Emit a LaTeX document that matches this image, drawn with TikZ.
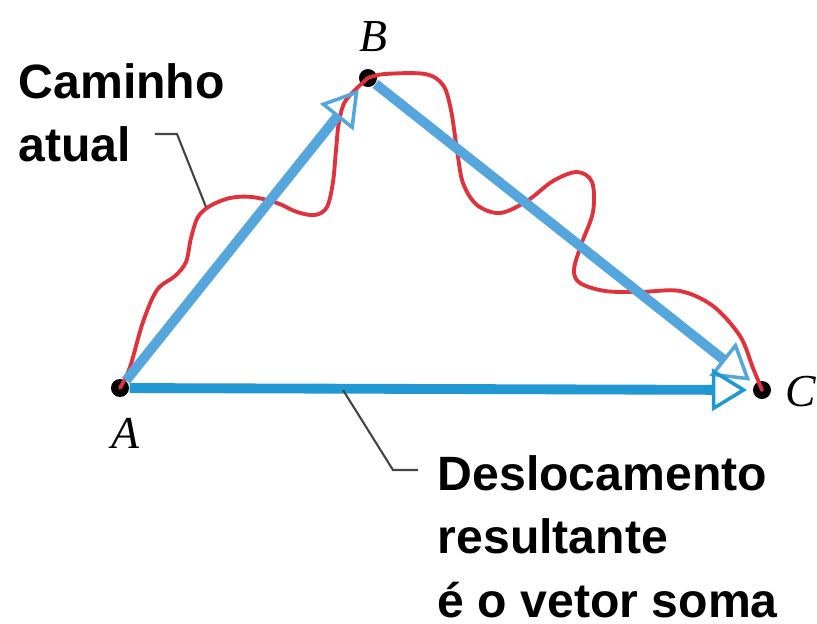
\documentclass[tikz,border=0pt]{standalone}
\usepackage{fontspec}
\setmainfont{Liberation Serif}
\setsansfont{Liberation Sans}
\usepackage{tikz}
\usetikzlibrary{arrows.meta,positioning,calc}
\definecolor{vecblue}{HTML}{55A6DC}
\definecolor{sumblue}{HTML}{2098D4}
\definecolor{pathred}{HTML}{E0323C}
\definecolor{leadgray}{HTML}{444444}

\begin{document}
\begin{tikzpicture}[x=0.01cm,y=-0.01cm,
  dot/.style={circle,fill=black,inner sep=0pt,minimum size=0.18cm},
  pt/.style={font=\fontsize{13}{15}\selectfont\itshape,inner sep=0pt},
  vec/.style={line width=2.8pt,draw=#1,-{Triangle[open,length=10pt,width=12pt,line width=1pt]},shorten >=1.5pt},
  route/.style={draw=pathred,line width=1.1pt,line cap=round,line join=round},
  lead/.style={draw=leadgray,line width=0.6pt},
  txt/.style={font=\sffamily\bfseries\fontsize{13.7}{18}\selectfont,align=left,inner sep=0pt,anchor=north west}
]
\useasboundingbox (0,0) rectangle (817,624);
\node[dot] (A) at (120,388) {};
\node[dot] (B) at (368,78) {};
\node[dot] (C) at (762,390) {};
\node[pt] (la) at (125,433) {A};
\node[pt] (lb) at (373,37) {B};
\node[pt] (lc) at (801,392) {C};
% actual route
\draw[route] plot[smooth,tension=0.55] coordinates {(A.center) (130,367) (143,322) (157,290) (175,276) (186,262)
  (191,238) (198,217) (210,206) (230,198) (252,197) (277,203) (297,212) (315,215) (327,207) (333,182)
  (336,150) (339,122) (346,100) (B.center)};
\draw[route] plot[smooth,tension=0.55] coordinates {(B.center) (385,74) (425,74) (443,85) (451,110) (457,150)
  (463,183) (477,205) (500,213) (527,201) (553,181) (577,172) (592,182) (593,212) (581,245) (574,270)
  (580,283) (605,291) (640,292) (680,291) (713,306) (740,336) (753,368) (C.center)};
\draw[vec=vecblue] (A) -- (B);
\draw[vec=vecblue] (B) -- (C);
\draw[vec=sumblue] (A) -- (C);
% labels
\node[txt] (cam) at (18,63) {Caminho\\atual};
\node[txt] (des) at (437,455) {Deslocamento\\resultante\\é o vetor soma};
\coordinate (cr) at (206,207);
\coordinate (dr) at (343,390);
\draw[lead] (155,134) -- (177,134) -- (cr);
\draw[lead] (dr) -- (393,470) -- (418,470);
\end{tikzpicture}
\end{document}
